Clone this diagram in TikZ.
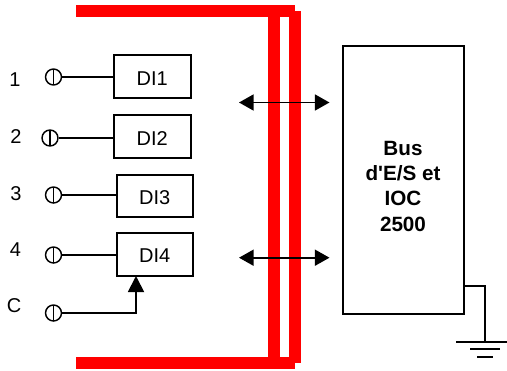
\documentclass[tikz,border=0pt]{standalone}
\usepackage{fontspec}
\newfontfamily\labelfont{Liberation Sans}
\usetikzlibrary{arrows.meta, calc}
\definecolor{buscolor}{RGB}{255,0,0}
\tikzset{
    dibox/.style={rectangle, draw, line width=1.5pt, minimum width=57.4pt, minimum height=32pt,
        inner sep=0pt, align=center, text height=13pt, text depth=0pt, font=\labelfont\fontsize{15}{17}\selectfont},
    terminal/.style={circle, draw, line width=1.1pt, minimum size=12pt, inner sep=0pt,
        path picture={\draw[line width=1.1pt] (path picture bounding box.north) -- (path picture bounding box.south);}},
    pinlabel/.style={inner sep=0pt, font=\labelfont\fontsize{15}{17}\selectfont},
    wire/.style={line width=1.4pt},
    redbus/.style={draw=buscolor, line width=9pt},
    feedarrow/.style={-{Triangle[length=12pt, width=12pt]}, line width=1.4pt},
    busarrow/.style={{Triangle[length=11pt, width=12pt]}-{Triangle[length=11pt, width=12pt]}, line width=1.4pt}
}

\begin{document}
\begin{tikzpicture}[x=0.75pt, y=-0.75pt]

    \useasboundingbox (0,0) rectangle (507,371);

    \coordinate (topLeft) at (76,11);
    \coordinate (topRight) at (295,11);
    \coordinate (botLeft) at (76,363);
    \coordinate (botRight) at (295,363);
    \coordinate (railAtop) at (273.5,11);
    \coordinate (railAbot) at (273.5,363);
    \coordinate (railBtop) at (294.7,11);
    \coordinate (railBbot) at (294.7,363);

    \draw[redbus] (railAtop) -- (railAbot);
    \draw[redbus] (railBtop) -- (railBbot);
    \draw[redbus] (topLeft) -- (topRight);
    \draw[redbus] (botLeft) -- (botRight);

    \node[dibox] (di1) at (152.3,76.5) {DI1};
    \node[dibox] (di2) at (152.3,136.5) {DI2};
    \node[dibox] (di3) at (154.8,196) {DI3};
    \node[dibox] (di4) at (154.8,254.2) {DI4};

    \node[draw, line width=1.5pt, minimum width=90.6pt, minimum height=200.6pt, inner sep=0pt] (ioc) at (403.5,180) {};
    \node[inner sep=0pt, align=center, font=\labelfont\fontsize{15.5}{19}\selectfont\bfseries] (ioctext) at (403,186) {Bus\\d'E/S et\\IOC\\2500};

    \node[terminal] (t1) at (53.5,77) {};
    \node[terminal] (t2) at (50,138) {};
    \node[terminal] (t3) at (53.5,195) {};
    \node[terminal] (t4) at (53.5,255) {};
    \node[terminal] (tc) at (53.5,313) {};

    \node[pinlabel] (l1) at (15,80) {1};
    \node[pinlabel] (l2) at (16,137) {2};
    \node[pinlabel] (l3) at (16,193.5) {3};
    \node[pinlabel] (l4) at (15.5,250) {4};
    \node[pinlabel] (lc) at (14,306) {C};

    \draw[wire] (t1) -- (t1 -| di1.west);
    \draw[wire] (t2) -- (t2 -| di2.west);
    \draw[wire] (t3) -- (t3 -| di3.west);
    \draw[wire] (t4) -- (t4 -| di4.west);

    \coordinate (cIn) at (136,276);
    \draw[feedarrow] (tc) -| (cIn);

    \coordinate (arrowAl) at (239,102.5);
    \coordinate (arrowAr) at (329.5,102.5);
    \coordinate (arrowBl) at (239,257.7);
    \coordinate (arrowBr) at (329.5,257.7);
    \draw[busarrow] (arrowAl) -- (arrowAr);
    \draw[busarrow] (arrowBl) -- (arrowBr);

    \coordinate (iocTap) at (ioc.east |- 0,286);
    \coordinate (gnd) at (485,342.3);
    \draw[wire] (iocTap) -| (gnd);
    \draw[wire] ($(gnd)+(-29,0)$) -- ($(gnd)+(22,0)$);
    \draw[wire] ($(gnd)+(-15,7)$) -- ($(gnd)+(15,7)$);
    \draw[wire] ($(gnd)+(-8,14.5)$) -- ($(gnd)+(8,14.5)$);

\end{tikzpicture}
\end{document}
